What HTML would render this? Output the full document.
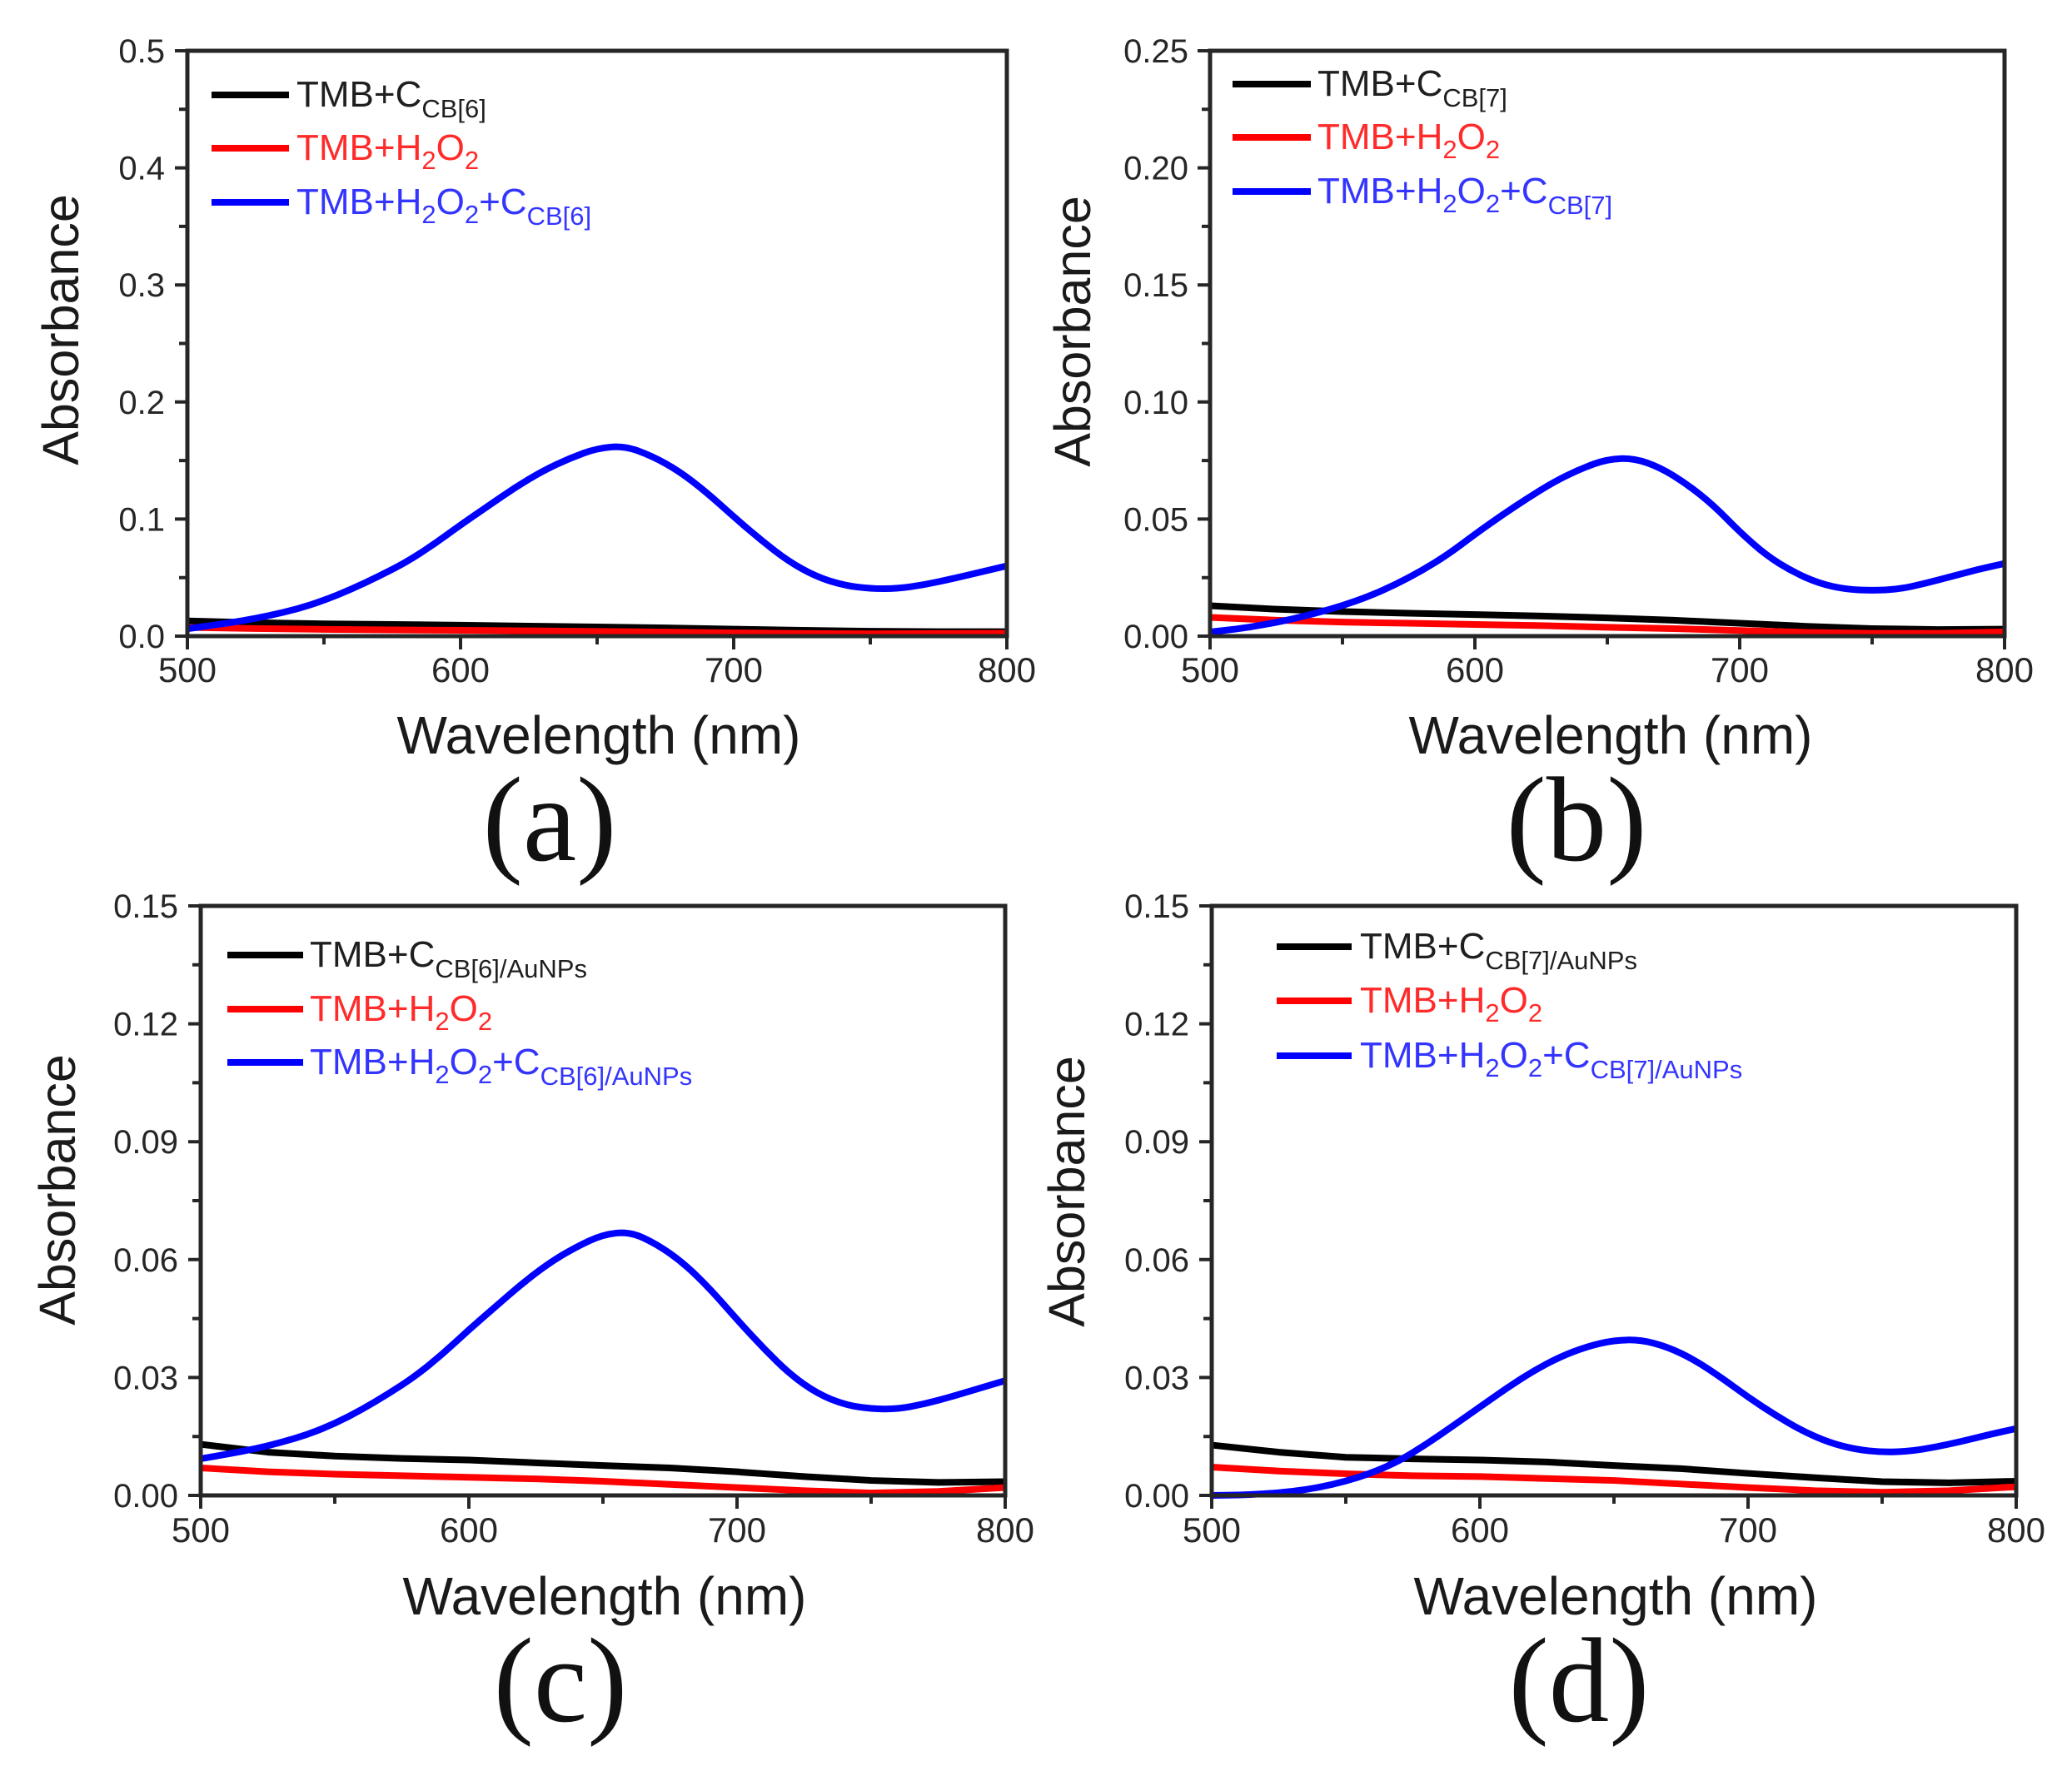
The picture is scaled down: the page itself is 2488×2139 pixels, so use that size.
<!DOCTYPE html>
<html>
<head>
<meta charset="utf-8">
<style>
html,body{margin:0;padding:0;background:#fff;}
svg{display:block;}
.ax{fill:none;stroke:#262626;stroke-width:5;}
.tk{fill:none;stroke:#262626;stroke-width:4;}
.yt{font-family:"Liberation Sans",Arial,sans-serif;font-size:40px;fill:#262626;text-anchor:end;}
.xt{font-family:"Liberation Sans",Arial,sans-serif;font-size:42px;fill:#262626;text-anchor:middle;}
.tt{font-family:"Liberation Sans",Arial,sans-serif;font-size:64px;fill:#1a1a1a;text-anchor:middle;}
.ab{font-family:"Liberation Sans",Arial,sans-serif;font-size:61px;fill:#1a1a1a;text-anchor:middle;}
.pl{font-family:"Liberation Serif","Times New Roman",serif;font-size:145px;fill:#111;text-anchor:middle;}
.lg{font-family:"Liberation Sans",Arial,sans-serif;font-size:44px;}
.sb{font-size:31px;}
.cv{fill:none;stroke-width:8;stroke-linejoin:round;}
.ll{stroke-width:8;}
</style>
</head>
<body>
<svg width="2488" height="2139" viewBox="0 0 2488 2139" xmlns="http://www.w3.org/2000/svg">
<rect width="2488" height="2139" fill="#fff"/>

<!-- ================= PANEL A ================= -->
<g>
<path class="cv" stroke="#000" vector-effect="non-scaling-stroke" transform="matrix(3.28,0,0,-1.406,-1415,764)" d="M500,13L525,11.5L550,10.5L575,10L600,9.3L625,8.5L650,7.8L675,7L700,6L725,5L750,4.2L775,3.8L800,3.8"/>
<path class="cv" stroke="#ff0000" vector-effect="non-scaling-stroke" transform="matrix(3.28,0,0,-1.406,-1415,764)" d="M500,7.5L525,6.5L550,5.8L575,5.3L600,5L625,4.5L650,4L675,3.5L700,2.8L725,2.2L750,2L775,2.2L800,2.5"/>
<path class="cv" stroke="#0000ff" vector-effect="non-scaling-stroke" transform="matrix(3.28,0,0,-1.406,-1415,764)" d="M500,6.3 L505,7.9 Q510,9.5 515,11.25 Q520,13 525,15.25 Q530,17.5 535,20.25 Q540,23 545,26.75 Q550,30.5 555,35.25 Q560,40 565,45.5 Q570,51 575,57 Q580,63 585,70.5 Q590,78 595,86.5 Q600,95 605,103 Q610,111 615,119 Q620,127 625,134 Q630,141 635,146.5 Q640,152 645,156.25 Q650,160.5 655,161.5 Q660,162.5 665,158.25 Q670,154 675,147.5 Q680,141 685,132 Q690,123 695,112.5 Q700,102 705,92 Q710,82 715,73 Q720,64 725,57.5 Q730,51 735,47.25 Q740,43.5 745,42 Q750,40.5 755,40.5 Q760,40.5 765,42.25 Q770,44 775,46.5 Q780,49 785,51.75 Q790,54.5 795,57.25 L800,60"/>
<rect class="ax" x="225" y="61" width="984" height="703"/>
<path class="tk" d="M210,764H225M210,623.4H225M210,482.8H225M210,342.2H225M210,201.6H225M210,61H225M215,693.7H225M215,553.1H225M215,412.5H225M215,271.9H225M215,131.3H225"/>
<path class="tk" d="M225,764V780M553,764V780M881,764V780M1209,764V780M389,764V774M717,764V774M1045,764V774"/>
<text class="yt" x="198" y="778">0.0</text>
<text class="yt" x="198" y="637.4">0.1</text>
<text class="yt" x="198" y="496.8">0.2</text>
<text class="yt" x="198" y="356.2">0.3</text>
<text class="yt" x="198" y="215.6">0.4</text>
<text class="yt" x="198" y="75">0.5</text>
<text class="xt" x="225" y="819">500</text>
<text class="xt" x="553" y="819">600</text>
<text class="xt" x="881" y="819">700</text>
<text class="xt" x="1209" y="819">800</text>
<text class="tt" x="719" y="905">Wavelength (nm)</text>
<text class="ab" transform="translate(94,396) rotate(-90)">Absorbance</text>
<text class="pl" x="660" y="1033">(a)</text>
<line class="ll" x1="254" y1="114" x2="347" y2="114" stroke="#000"/>
<line class="ll" x1="254" y1="178" x2="347" y2="178" stroke="#ff0000"/>
<line class="ll" x1="254" y1="243" x2="347" y2="243" stroke="#0000ff"/>
<text class="lg" x="356" y="128" fill="#1f1f1f">TMB+C<tspan class="sb" dy="13">CB[6]</tspan></text>
<text class="lg" x="356" y="192" fill="#ff2a2a">TMB+H<tspan class="sb" dy="11">2</tspan><tspan dy="-11">O</tspan><tspan class="sb" dy="11">2</tspan></text>
<text class="lg" x="356" y="257" fill="#3434ff">TMB+H<tspan class="sb" dy="11">2</tspan><tspan dy="-11">O</tspan><tspan class="sb" dy="11">2</tspan><tspan dy="-11">+C</tspan><tspan class="sb" dy="13">CB[6]</tspan></text>
</g>

<!-- ================= PANEL B ================= -->
<g>
<path class="cv" stroke="#000" vector-effect="non-scaling-stroke" transform="matrix(3.18,0,0,-2.812,-137,764)" d="M500,13L525,11.5L550,10.5L575,9.8L600,9.2L625,8.6L650,7.8L675,6.8L700,5.5L725,4.2L750,3.2L775,2.8L800,3"/>
<path class="cv" stroke="#ff0000" vector-effect="non-scaling-stroke" transform="matrix(3.18,0,0,-2.812,-137,764)" d="M500,8L525,6.8L550,6L575,5.5L600,5L625,4.5L650,3.8L675,3.2L700,2.4L725,1.6L750,1.2L775,1.2L800,1.8"/>
<path class="cv" stroke="#0000ff" vector-effect="non-scaling-stroke" transform="matrix(3.18,0,0,-2.812,-137,764)" d="M500,1.8 L505,2.4 Q510,3 515,3.9 Q520,4.8 525,5.9 Q530,7 535,8.4 Q540,9.8 545,11.4 Q550,13 555,15 Q560,17 565,19.5 Q570,22 575,25 Q580,28 585,31.5 Q590,35 595,39.25 Q600,43.5 605,47.5 Q610,51.5 615,55.25 Q620,59 625,62.5 Q630,66 635,68.75 Q640,71.5 645,73.55 Q650,75.6 655,75.8 Q660,76 665,74 Q670,72 675,68.5 Q680,65 685,60.5 Q690,56 695,50.25 Q700,44.5 705,39.5 Q710,34.5 715,31 Q720,27.5 725,25 Q730,22.5 735,21.25 Q740,20 745,19.75 Q750,19.5 755,19.75 Q760,20 765,21.25 Q770,22.5 775,24 Q780,25.5 785,27 Q790,28.5 795,29.75 L800,31"/>
<rect class="ax" x="1453" y="61" width="954" height="703"/>
<path class="tk" d="M1438,764H1453M1438,623.4H1453M1438,482.8H1453M1438,342.2H1453M1438,201.6H1453M1438,61H1453M1443,693.7H1453M1443,553.1H1453M1443,412.5H1453M1443,271.9H1453M1443,131.3H1453"/>
<path class="tk" d="M1453,764V780M1771,764V780M2089,764V780M2407,764V780M1612,764V774M1930,764V774M2248,764V774"/>
<text class="yt" x="1427" y="778">0.00</text>
<text class="yt" x="1427" y="637.4">0.05</text>
<text class="yt" x="1427" y="496.8">0.10</text>
<text class="yt" x="1427" y="356.2">0.15</text>
<text class="yt" x="1427" y="215.6">0.20</text>
<text class="yt" x="1427" y="75">0.25</text>
<text class="xt" x="1453" y="819">500</text>
<text class="xt" x="1771" y="819">600</text>
<text class="xt" x="2089" y="819">700</text>
<text class="xt" x="2407" y="819">800</text>
<text class="tt" x="1934" y="905">Wavelength (nm)</text>
<text class="ab" transform="translate(1309,398) rotate(-90)">Absorbance</text>
<text class="pl" x="1893" y="1033">(b)</text>
<line class="ll" x1="1480" y1="101" x2="1574" y2="101" stroke="#000"/>
<line class="ll" x1="1480" y1="165" x2="1574" y2="165" stroke="#ff0000"/>
<line class="ll" x1="1480" y1="230" x2="1574" y2="230" stroke="#0000ff"/>
<text class="lg" x="1582" y="115" fill="#1f1f1f">TMB+C<tspan class="sb" dy="13">CB[7]</tspan></text>
<text class="lg" x="1582" y="179" fill="#ff2a2a">TMB+H<tspan class="sb" dy="11">2</tspan><tspan dy="-11">O</tspan><tspan class="sb" dy="11">2</tspan></text>
<text class="lg" x="1582" y="244" fill="#3434ff">TMB+H<tspan class="sb" dy="11">2</tspan><tspan dy="-11">O</tspan><tspan class="sb" dy="11">2</tspan><tspan dy="-11">+C</tspan><tspan class="sb" dy="13">CB[7]</tspan></text>
</g>

<!-- ================= PANEL C ================= -->
<g>
<path class="cv" stroke="#000" vector-effect="non-scaling-stroke" transform="matrix(3.22,0,0,-4.72,-1369,1796)" d="M500,13L525,11L550,10L575,9.4L600,9L625,8.3L650,7.6L675,7L700,6L725,4.8L750,3.8L775,3.3L800,3.5"/>
<path class="cv" stroke="#ff0000" vector-effect="non-scaling-stroke" transform="matrix(3.22,0,0,-4.72,-1369,1796)" d="M500,7L525,6L550,5.4L575,5L600,4.6L625,4.2L650,3.6L675,2.8L700,2L725,1.2L750,0.6L775,1L800,2"/>
<path class="cv" stroke="#0000ff" vector-effect="non-scaling-stroke" transform="matrix(3.22,0,0,-1.7464,-1369,1762.96)" d="M500,6.3 L505,7.9 Q510,9.5 515,11.25 Q520,13 525,15.25 Q530,17.5 535,20.25 Q540,23 545,26.75 Q550,30.5 555,35.25 Q560,40 565,45.5 Q570,51 575,57 Q580,63 585,70.5 Q590,78 595,86.5 Q600,95 605,103 Q610,111 615,119 Q620,127 625,134 Q630,141 635,146.5 Q640,152 645,156.25 Q650,160.5 655,161.5 Q660,162.5 665,158.25 Q670,154 675,147.5 Q680,141 685,132 Q690,123 695,112.5 Q700,102 705,92 Q710,82 715,73 Q720,64 725,57.5 Q730,51 735,47.25 Q740,43.5 745,42 Q750,40.5 755,40.5 Q760,40.5 765,42.25 Q770,44 775,46.5 Q780,49 785,51.75 Q790,54.5 795,57.25 L800,60"/>
<rect class="ax" x="241" y="1088" width="966" height="708"/>
<path class="tk" d="M226,1796H241M226,1654.4H241M226,1512.8H241M226,1371.2H241M226,1229.6H241M226,1088H241M231,1725.2H241M231,1583.6H241M231,1442H241M231,1300.4H241M231,1158.8H241"/>
<path class="tk" d="M241,1796V1812M563,1796V1812M885,1796V1812M1207,1796V1812M402,1796V1806M724,1796V1806M1046,1796V1806"/>
<text class="yt" x="214" y="1810">0.00</text>
<text class="yt" x="214" y="1668.4">0.03</text>
<text class="yt" x="214" y="1526.8">0.06</text>
<text class="yt" x="214" y="1385.2">0.09</text>
<text class="yt" x="214" y="1243.6">0.12</text>
<text class="yt" x="214" y="1102">0.15</text>
<text class="xt" x="241" y="1852">500</text>
<text class="xt" x="563" y="1852">600</text>
<text class="xt" x="885" y="1852">700</text>
<text class="xt" x="1207" y="1852">800</text>
<text class="tt" x="726" y="1939">Wavelength (nm)</text>
<text class="ab" transform="translate(90,1429) rotate(-90)">Absorbance</text>
<text class="pl" x="673" y="2067">(c)</text>
<line class="ll" x1="273" y1="1147" x2="364" y2="1147" stroke="#000"/>
<line class="ll" x1="273" y1="1212" x2="364" y2="1212" stroke="#ff0000"/>
<line class="ll" x1="273" y1="1276" x2="364" y2="1276" stroke="#0000ff"/>
<text class="lg" x="372" y="1161" fill="#1f1f1f">TMB+C<tspan class="sb" dy="13">CB[6]/AuNPs</tspan></text>
<text class="lg" x="372" y="1226" fill="#ff2a2a">TMB+H<tspan class="sb" dy="11">2</tspan><tspan dy="-11">O</tspan><tspan class="sb" dy="11">2</tspan></text>
<text class="lg" x="372" y="1290" fill="#3434ff">TMB+H<tspan class="sb" dy="11">2</tspan><tspan dy="-11">O</tspan><tspan class="sb" dy="11">2</tspan><tspan dy="-11">+C</tspan><tspan class="sb" dy="13">CB[6]/AuNPs</tspan></text>
</g>

<!-- ================= PANEL D ================= -->
<g>
<path class="cv" stroke="#000" vector-effect="non-scaling-stroke" transform="matrix(3.22,0,0,-4.72,-155,1796)" d="M500,12.8L525,11L550,9.7L575,9.3L600,9L625,8.5L650,7.6L675,6.8L700,5.6L725,4.5L750,3.5L775,3.2L800,3.6"/>
<path class="cv" stroke="#ff0000" vector-effect="non-scaling-stroke" transform="matrix(3.22,0,0,-4.72,-155,1796)" d="M500,7.2L525,6.2L550,5.5L575,5L600,4.8L625,4.3L650,3.8L675,2.9L700,2L725,1.2L750,0.8L775,1.2L800,2.2"/>
<path class="cv" stroke="#0000ff" vector-effect="non-scaling-stroke" transform="matrix(3.22,0,0,-4.72,-155,1796)" d="M500,0 L505,0.05 Q510,0.1 515,0.25 Q520,0.4 525,0.7 Q530,1 535,1.5 Q540,2 545,2.8 Q550,3.6 555,4.7 Q560,5.8 565,7.3 Q570,8.8 575,10.9 Q580,13 585,15.35 Q590,17.7 595,20.1 Q600,22.5 605,24.9 Q610,27.3 615,29.5 Q620,31.7 625,33.5 Q630,35.3 635,36.6 Q640,37.9 645,38.7 Q650,39.5 655,39.55 Q660,39.6 665,38.7 Q670,37.8 675,36.15 Q680,34.5 685,32.25 Q690,30 695,27.5 Q700,25 705,22.75 Q710,20.5 715,18.5 Q720,16.5 725,15 Q730,13.5 735,12.6 Q740,11.7 745,11.35 Q750,11 755,11.1 Q760,11.2 765,11.75 Q770,12.3 775,13.05 Q780,13.8 785,14.65 Q790,15.5 795,16.25 L800,17"/>
<rect class="ax" x="1455" y="1088" width="966" height="708"/>
<path class="tk" d="M1440,1796H1455M1440,1654.4H1455M1440,1512.8H1455M1440,1371.2H1455M1440,1229.6H1455M1440,1088H1455M1445,1725.2H1455M1445,1583.6H1455M1445,1442H1455M1445,1300.4H1455M1445,1158.8H1455"/>
<path class="tk" d="M1455,1796V1812M1777,1796V1812M2099,1796V1812M2421,1796V1812M1616,1796V1806M1938,1796V1806M2260,1796V1806"/>
<text class="yt" x="1428" y="1810">0.00</text>
<text class="yt" x="1428" y="1668.4">0.03</text>
<text class="yt" x="1428" y="1526.8">0.06</text>
<text class="yt" x="1428" y="1385.2">0.09</text>
<text class="yt" x="1428" y="1243.6">0.12</text>
<text class="yt" x="1428" y="1102">0.15</text>
<text class="xt" x="1455" y="1852">500</text>
<text class="xt" x="1777" y="1852">600</text>
<text class="xt" x="2099" y="1852">700</text>
<text class="xt" x="2421" y="1852">800</text>
<text class="tt" x="1940" y="1939">Wavelength (nm)</text>
<text class="ab" transform="translate(1302,1431) rotate(-90)">Absorbance</text>
<text class="pl" x="1896" y="2067">(d)</text>
<line class="ll" x1="1533" y1="1137" x2="1623" y2="1137" stroke="#000"/>
<line class="ll" x1="1533" y1="1202" x2="1623" y2="1202" stroke="#ff0000"/>
<line class="ll" x1="1533" y1="1268" x2="1623" y2="1268" stroke="#0000ff"/>
<text class="lg" x="1633" y="1151" fill="#1f1f1f">TMB+C<tspan class="sb" dy="13">CB[7]/AuNPs</tspan></text>
<text class="lg" x="1633" y="1216" fill="#ff2a2a">TMB+H<tspan class="sb" dy="11">2</tspan><tspan dy="-11">O</tspan><tspan class="sb" dy="11">2</tspan></text>
<text class="lg" x="1633" y="1282" fill="#3434ff">TMB+H<tspan class="sb" dy="11">2</tspan><tspan dy="-11">O</tspan><tspan class="sb" dy="11">2</tspan><tspan dy="-11">+C</tspan><tspan class="sb" dy="13">CB[7]/AuNPs</tspan></text>
</g>
</svg>
</body>
</html>
